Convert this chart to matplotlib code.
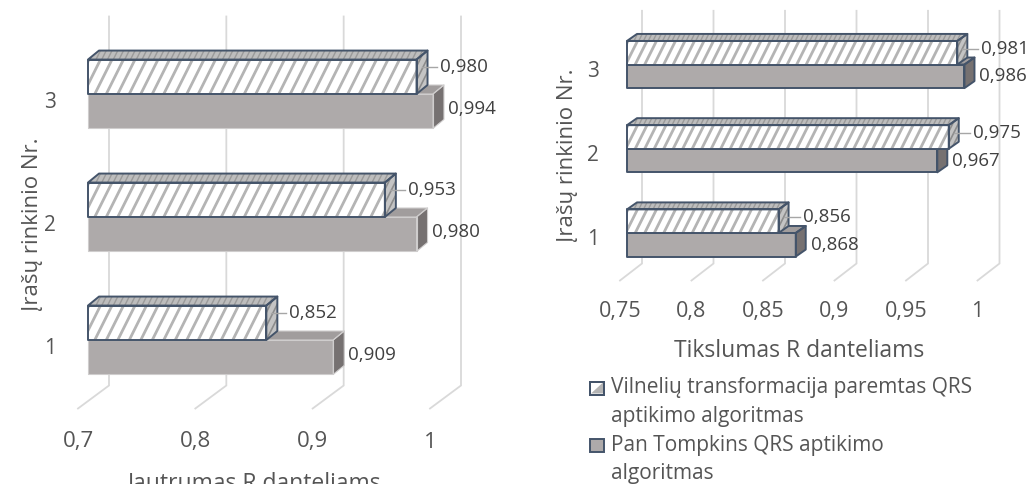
import matplotlib
matplotlib.use("Agg")
import matplotlib.pyplot as plt
from matplotlib.patches import Polygon, Rectangle
from matplotlib.collections import LineCollection

plt.rcParams['font.family'] = ['Open Sans', 'DejaVu Sans']

# ---- data -------------------------------------------------------------
categories = [1, 2, 3]
sens_wavelet = [0.852, 0.953, 0.980]
sens_pantompkins = [0.909, 0.980, 0.994]
acc_wavelet = [0.856, 0.975, 0.981]
acc_pantompkins = [0.868, 0.967, 0.986]
sens_ticks = [0.7, 0.8, 0.9, 1.0]
acc_ticks = [0.75, 0.8, 0.85, 0.9, 0.95, 1.0]
sens_title = "Jautrumas R danteliams"
acc_title = "Tikslumas R danteliams"
cat_title = "Įrašų rinkinio Nr."
legend_lines = [["Vilnelių transformacija paremtas QRS", "aptikimo algoritmas"],
                ["Pan Tompkins QRS aptikimo", "algoritmas"]]

# ---- style ------------------------------------------------------------
W, H = 1030, 484
EDGE = '#44546A'
GRID = '#D9D9D9'
GRAY_FRONT = '#AEAAAA'
GRAY_TOP = '#A19D9D'
GRAY_SIDE = '#767171'
HATCH_LINE = '#B4B4B4'
TXT = '#555555'
LBL = '#404040'
BAR_H = 0.28

fig = plt.figure(figsize=(W / 100, H / 100), dpi=100)


def fig_xy(x, y):
    """Figure fraction from pixel position measured from top-left."""
    return x / W, 1 - y / H


def add_axes_px(x0, x1, ytop, ybot):
    return fig.add_axes([x0 / W, (H - ybot) / H, (x1 - x0) / W, (ybot - ytop) / H])


def shift(ax, x, y, dx, dy):
    p = ax.transData.transform((x, y))
    return tuple(ax.transData.inverted().transform((p[0] + dx, p[1] + dy)))


def hatch_lines(ax, clip_patch, x0, x1, y0, y1, step, color, lw, z):
    (bx0, by0) = ax.transData.transform((x0, y0))
    (bx1, by1) = ax.transData.transform((x1, y1))
    slope = 0.5
    span = (by1 - by0) * slope
    segs = []
    xs = bx0 - span - step
    inv = ax.transData.inverted()
    while xs < bx1 + step:
        a = inv.transform((xs, by0 - 2))
        b = inv.transform((xs + span + slope * 4, by1 + 2))
        segs.append([a, b])
        xs += step
    lc = LineCollection(segs, colors=color, linewidths=lw, zorder=z)
    ax.add_collection(lc)
    lc.set_clip_path(clip_patch)


def draw_box(ax, x0, x1, y0, y1, depth, face, top, side, edge, lw, z,
             hatched=False, step=11):
    bars = ax.barh([(y0 + y1) / 2], [x1 - x0], left=x0, height=y1 - y0,
                   color=face, edgecolor='none', zorder=z)
    rect = bars.patches[0]
    dx, dy = depth
    top_poly = [(x0, y1), (x1, y1), shift(ax, x1, y1, dx, dy), shift(ax, x0, y1, dx, dy)]
    side_poly = [(x1, y0), shift(ax, x1, y0, dx, dy), shift(ax, x1, y1, dx, dy), (x1, y1)]
    ptop = Polygon(top_poly, closed=True, facecolor=top, edgecolor='none',
                   zorder=z, clip_on=False)
    pside = Polygon(side_poly, closed=True, facecolor=side, edgecolor='none',
                    zorder=z, clip_on=False)
    ax.add_patch(ptop)
    ax.add_patch(pside)
    if hatched:
        hatch_lines(ax, rect, x0, x1, y0, y1, step, HATCH_LINE, 2.0, z + 0.01)
        hatch_lines(ax, pside, x1, shift(ax, x1, y0, dx, dy)[0], y0,
                    shift(ax, x1, y1, dx, dy)[1], step * 0.6, '#8C8C8C', 1.2, z + 0.01)
        hatch_lines(ax, ptop, x0, shift(ax, x1, y1, dx, dy)[0], y1,
                    shift(ax, x1, y1, dx, dy)[1], step * 0.5, '#9A9A9A', 1.0, z + 0.01)
    for poly in (top_poly, side_poly):
        ax.add_patch(Polygon(poly, closed=True, fill=False, edgecolor=edge, lw=lw,
                             zorder=z + 0.02, clip_on=False, joinstyle='round'))
    ax.add_patch(Rectangle((x0, y0), x1 - x0, y1 - y0, fill=False, edgecolor=edge,
                           lw=lw, zorder=z + 0.03, clip_on=False, joinstyle='round'))


def fmt(v, digits=None):
    s = f"{v:.{digits}f}" if digits else f"{v:g}"
    return s.replace('.', ',')


def draw_panel(ax, wavelet, pantomp, ticks, cfg):
    x0 = ticks[0]
    ax.set_xlim(ticks[0], ticks[-1])
    ax.set_ylim(0.5, 3.5)
    ax.axis('off')
    wall, floor, depth = cfg['wall'], cfg['floor'], cfg['depth']

    # back wall gridlines and floor lines
    for t in ticks:
        f = shift(ax, t, 0.5, *floor)
        b = shift(ax, t, 0.5, *wall)
        tp = shift(ax, t, 3.5, *wall)
        ax.plot([f[0], b[0], tp[0]], [f[1], b[1], tp[1]], color=GRID, lw=1.3,
                clip_on=False, zorder=1, solid_joinstyle='miter')
        lx, ly = shift(ax, t, 0.5, floor[0], floor[1] - cfg['tick_drop'])
        ax.text(lx, ly, fmt(t), ha='center', va='center', fontsize=cfg['tick_fs'],
                color=TXT)

    z = 3
    for c, wv, pv in zip(categories, wavelet, pantomp):
        # lower bar: Pan Tompkins
        draw_box(ax, x0, pv, c - BAR_H, c, depth, GRAY_FRONT, GRAY_TOP, GRAY_SIDE,
                 cfg['gray_edge'], cfg['gray_lw'], z)
        # upper bar: wavelet based
        draw_box(ax, x0, wv, c, c + BAR_H, depth, 'white', '#BDBDBD', '#C4C4C4',
                 EDGE, 1.4, z + 0.1, hatched=True, step=cfg['step'])
        z += 0.2

        # value labels
        gx, gy = shift(ax, pv, c - BAR_H / 2, 15, cfg['glbl_dy'])
        ax.text(gx, gy, fmt(pv, 3), ha='left', va='center', fontsize=cfg['lbl_fs'],
                color=LBL, zorder=10)
        hdx, hdy = cfg['hlbl']
        hx, hy = shift(ax, wv, c + BAR_H / 2, hdx, hdy)
        ax.text(hx, hy, fmt(wv, 3), ha='left', va='center', fontsize=cfg['lbl_fs'],
                color=LBL, zorder=10)
        a = shift(ax, wv, c + BAR_H / 2, 5, hdy)
        b = shift(ax, wv, c + BAR_H / 2, hdx - 3, hdy)
        ax.plot([a[0], b[0]], [a[1], b[1]], color='#A6A6A6', lw=1.0, clip_on=False,
                zorder=9)

        # category label
        cx, cy = shift(ax, x0, c, cfg['cat_dx'], cfg['cat_dy'])
        ax.text(cx, cy, str(c), ha='center', va='center', fontsize=cfg['cat_fs'],
                color=TXT)


# ---- left panel: sensitivity -----------------------------------------
axL = add_axes_px(88, 440, 32.5, 401.5)
draw_panel(axL, sens_wavelet, sens_pantompkins, sens_ticks,
           dict(wall=(21, 16), floor=(-10, -7), depth=(11, 9), tick_drop=33.5,
                gray_edge='#CFCDCD', gray_lw=0.8, step=11.5, hlbl=(23, 10), glbl_dy=2,
                cat_dx=-38, cat_dy=-8, tick_fs=16, lbl_fs=13.5, cat_fs=15))
fig.text(*fig_xy(255, 489), sens_title, ha='center', va='baseline', fontsize=16.5,
         color=TXT)
fig.text(*fig_xy(33, 224), cat_title, ha='center', va='center', rotation=90,
         fontsize=16, color=TXT)

# ---- right panel: accuracy -------------------------------------------
axR = add_axes_px(627, 984.5, 22.4, 275.1)
draw_panel(axR, acc_wavelet, acc_pantompkins, acc_ticks,
           dict(wall=(15, 11.6), floor=(-7, -5.4), depth=(10, 7), tick_drop=31,
                gray_edge=EDGE, gray_lw=1.4, step=9.5, hlbl=(24, 4), glbl_dy=0,
                cat_dx=-34, cat_dy=-7, tick_fs=15.5, lbl_fs=13.5, cat_fs=15))
fig.text(*fig_xy(799, 357), acc_title, ha='center', va='baseline', fontsize=16.5,
         color=TXT)
fig.text(*fig_xy(567, 155), cat_title, ha='center', va='center', rotation=90,
         fontsize=16, color=TXT)

# ---- legend ------------------------------------------------------------
line_gap = 28.5
entry_y = [388, 445]
for k, (lines, y) in enumerate(zip(legend_lines, entry_y)):
    mx, my = fig_xy(590, y + 6.5)
    if k == 0:
        sq = Rectangle((mx, my), 14 / W, 13 / H, transform=fig.transFigure,
                       facecolor='white', edgecolor=EDGE, lw=1.4)
        fig.add_artist(sq)
        tri = Polygon([fig_xy(591, y + 5.5), fig_xy(603, y - 5.5), fig_xy(603, y + 5.5)],
                      closed=True, transform=fig.transFigure, facecolor='#B4B4B4',
                      edgecolor='none')
        fig.add_artist(tri)
        fig.add_artist(Rectangle((mx, my), 14 / W, 13 / H, transform=fig.transFigure,
                                 fill=False, edgecolor=EDGE, lw=1.4))
    else:
        fig.add_artist(Rectangle((mx, my), 14 / W, 13 / H, transform=fig.transFigure,
                                 facecolor=GRAY_FRONT, edgecolor=EDGE, lw=1.4))
    for j, line in enumerate(lines):
        fig.text(*fig_xy(611, y + j * line_gap), line, ha='left', va='center',
                 fontsize=15, color=TXT)

fig.savefig('out.png', dpi=100)
